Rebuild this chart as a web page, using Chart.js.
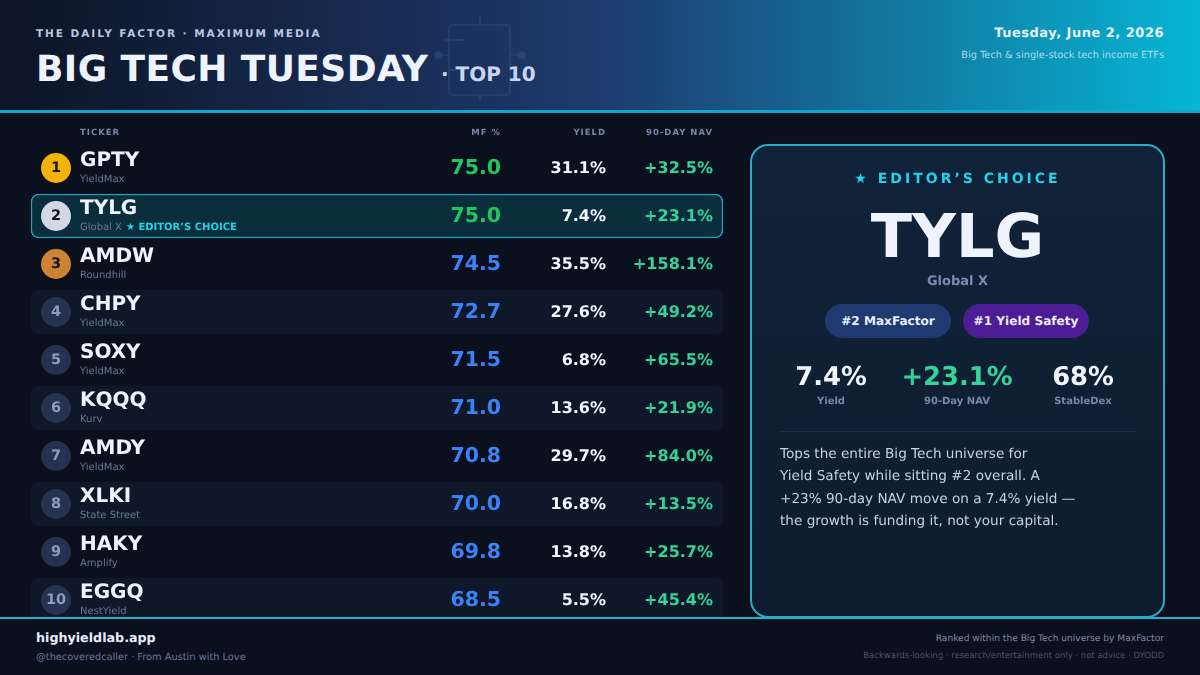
<!DOCTYPE html>
<html>
<head>
<meta charset="utf-8">
<script src="https://cdn.jsdelivr.net/npm/chart.js@4"></script>
<style>
  html, body { margin: 0; padding: 0; }
  body { width: 1200px; height: 675px; overflow: hidden; position: relative; background: #0b101e; font-family: "DejaVu Sans", sans-serif; text-rendering: geometricPrecision; }
  .abs { position: absolute; white-space: nowrap; }
  #header { left: 0; top: 0; width: 1200px; height: 110px; border-bottom: 3px solid #0fa8cb; background: linear-gradient(90deg, #0c1425 0%, #1e3a6e 50%, #06b6d4 100%); }
  #chip { left: 430px; top: 10px; }
  #sheet { left: 0; top: 0; }
  #panel { left: 750px; top: 144px; width: 411px; height: 470px; border: 2px solid #2fa9c4; border-radius: 18px; background: linear-gradient(180deg, #11233a 0%, #0e1b2e 100%); }
  #footer { left: 0; top: 617px; width: 1200px; height: 56px; border-top: 2px solid #1fb0cc; background: #0b101e; }
  .pill { top: 304px; height: 34px; line-height: 35px; border-radius: 17px; text-align: center; font-size: 12.1px; font-weight: bold; color: #e8eefb; width: 126px; }
  .stat { top: 361px; width: 160px; text-align: center; font-size: 25.8px; font-weight: bold; color: #f1f5fd; line-height: 32px; }
  .statl { top: 395px; width: 160px; text-align: center; font-size: 10px; font-weight: bold; color: #7687a9; line-height: 14px; }
</style>
</head>
<body>
<div id="header" class="abs"></div>
<svg id="chip" class="abs" width="100" height="90" fill="none" stroke="#3f5b8f" stroke-width="1.5" opacity="0.42">
  <rect x="19" y="15" width="61" height="70" rx="4"/>
  <line x1="50" y1="5" x2="50" y2="15"/><line x1="50" y1="85" x2="50" y2="95"/>
  <line x1="80" y1="45" x2="92" y2="45"/><line x1="8" y1="45" x2="19" y2="45"/>
  <circle cx="92" cy="45" r="3" fill="#3f5b8f"/><circle cx="8" cy="45" r="3" fill="#3f5b8f"/>
  <line x1="15" y1="30" x2="35" y2="30"/><line x1="19" y1="60" x2="35" y2="60"/>
</svg>
<div class="abs" style="left:36px;top:27px;font-size:10.5px;font-weight:bold;letter-spacing:1.95px;color:#b7c6e0;line-height:14px">THE DAILY FACTOR · MAXIMUM MEDIA</div>
<div class="abs" style="left:36px;top:47px;font-size:36px;font-weight:bold;letter-spacing:0.4px;color:#eef3fd;line-height:46px">BIG TECH TUESDAY</div>
<div class="abs" style="left:441px;top:60px;font-size:20px;font-weight:bold;color:#c9d6ef;line-height:28px">· TOP 10</div>
<div class="abs" style="right:36px;top:26px;font-size:13px;font-weight:bold;letter-spacing:0.5px;color:#e6f3fa;line-height:16px">Tuesday, June 2, 2026</div>
<div class="abs" style="right:36px;top:49px;font-size:9.8px;color:#a8dbe9;line-height:14px">Big Tech &amp; single-stock tech income ETFs</div>

<canvas id="sheet" class="abs" width="1200" height="675"></canvas>

<div id="panel" class="abs"></div>
<div class="abs" style="left:750px;width:415px;text-align:center;top:170px;font-size:14px;font-weight:bold;letter-spacing:3px;color:#22d3ee;line-height:18px">★ EDITOR’S CHOICE</div>
<div class="abs" style="left:750px;width:415px;text-align:center;top:198px;font-size:60.5px;font-weight:bold;color:#eef3fd;line-height:78px">TYLG</div>
<div class="abs" style="left:750px;width:415px;text-align:center;top:273px;font-size:13px;font-weight:bold;color:#7a8bb0;line-height:17px">Global X</div>
<div class="abs pill" style="left:825px;background:#1e3a70">#2 MaxFactor</div>
<div class="abs pill" style="left:963px;background:#4c1d95">#1 Yield Safety</div>
<div class="abs stat" style="left:751px">7.4%</div>
<div class="abs stat" style="left:877px;color:#34d399">+23.1%</div>
<div class="abs stat" style="left:1003px">68%</div>
<div class="abs statl" style="left:751px">Yield</div>
<div class="abs statl" style="left:877px">90-Day NAV</div>
<div class="abs statl" style="left:1003px">StableDex</div>
<div class="abs" style="left:780px;top:431px;width:355px;height:1px;background:#1f3148"></div>
<div class="abs" style="left:780px;top:443px;font-size:13.6px;line-height:22.4px;color:#c6d0e0">Tops the entire Big Tech universe for<br>Yield Safety while sitting #2 overall. A<br>+23% 90-day NAV move on a 7.4% yield —<br>the growth is funding it, not your capital.</div>

<div id="footer" class="abs"></div>
<div class="abs" style="left:36px;top:629px;font-size:12.7px;font-weight:bold;color:#e8eefb;line-height:17px">highyieldlab.app</div>
<div class="abs" style="left:36px;top:651px;font-size:9.8px;color:#68779a;line-height:14px">@thecoveredcaller · From Austin with Love</div>
<div class="abs" style="right:36px;top:633px;font-size:9.1px;color:#7f8aa3;line-height:13px">Ranked within the Big Tech universe by MaxFactor</div>
<div class="abs" style="right:36px;top:650px;font-size:8.5px;color:#4a5268;line-height:13px">Backwards-looking · research/entertainment only · not advice · DYODD</div>

<script>
// table data
const tickers = ['GPTY', 'TYLG', 'AMDW', 'CHPY', 'SOXY', 'KQQQ', 'AMDY', 'XLKI', 'HAKY', 'EGGQ'];
const issuers = ['YieldMax', 'Global X', 'Roundhill', 'YieldMax', 'YieldMax', 'Kurv', 'YieldMax', 'State Street', 'Amplify', 'NestYield'];
const mfPct = [75.0, 75.0, 74.5, 72.7, 71.5, 71.0, 70.8, 70.0, 69.8, 68.5];
const yieldPct = [31.1, 7.4, 35.5, 27.6, 6.8, 13.6, 29.7, 16.8, 13.8, 5.5];
const navPct = [32.5, 23.1, 158.1, 49.2, 65.5, 21.9, 84.0, 13.5, 25.7, 45.4];
const columnLabels = ['TICKER', 'MF %', 'YIELD', '90-DAY NAV'];
const editorsPick = 'TYLG';

// x scale runs in page pixels, so columns are simply anchors on it
const X_MIN = 31, X_MAX = 723;
const X_DOT = 56, X_TICKER = 80, X_MF = 501, X_YIELD = 606, X_NAV = 713;

const rowFill = tickers.map((t, i) => t === editorsPick ? '#0a2e3b' : (i % 2 === 1 ? '#0f1829' : 'rgba(0,0,0,0)'));
const rowEdgeWidth = tickers.map(t => t === editorsPick ? 1.5 : 0);
const dotFill = tickers.map((_, i) => ['#f4b20a', '#d3d9e4', '#cd8234'][i] || '#26324f');

/**
 * table text, placed from the chart's own scales
 */
const tableText = {
    id: 'tableText',
    afterDatasetsDraw(chart) {
        const { ctx, scales: { x, y } } = chart;
        const put = (text, px, py, font, color, align, spacing) => {
            ctx.font = font + ' "DejaVu Sans"';
            ctx.fillStyle = color;
            ctx.textAlign = align;
            ctx.textBaseline = 'middle';
            ctx.letterSpacing = spacing || '0px';
            ctx.textRendering = 'geometricPrecision';
            ctx.fillText(text, px, py);
        };
        ctx.save();
        const headerY = y.top - 11.5;
        put(columnLabels[0], x.getPixelForValue(X_TICKER), headerY, 'bold 8.5px', '#7485a8', 'left', '1px');
        put(columnLabels[1], x.getPixelForValue(X_MF), headerY, 'bold 8.5px', '#7485a8', 'right', '1px');
        put(columnLabels[2], x.getPixelForValue(X_YIELD), headerY, 'bold 8.5px', '#7485a8', 'right', '1px');
        put(columnLabels[3], x.getPixelForValue(X_NAV), headerY, 'bold 8.5px', '#7485a8', 'right', '1px');

        tickers.forEach((t, i) => {
            const cy = y.getPixelForValue(i);
            put(String(i + 1), x.getPixelForValue(X_DOT), cy + 0.5, 'bold 14.5px', i < 3 ? '#14161f' : '#8c9dc4', 'center');
            put(t, x.getPixelForValue(X_TICKER), cy - 7.5, 'bold 20px', '#eef3fd', 'left');
            put(issuers[i], x.getPixelForValue(X_TICKER), cy + 11.5, '10px', '#67769a', 'left');
            if (t === editorsPick) {
                const w = ctx.measureText(issuers[i]).width;
                put('★ EDITOR’S CHOICE', x.getPixelForValue(X_TICKER) + w + 4, cy + 11.5, 'bold 10px', '#22d3ee', 'left');
            }
            put(mfPct[i].toFixed(1), x.getPixelForValue(X_MF), cy + 0.5, 'bold 20.5px', mfPct[i] >= 75 ? '#22c55e' : '#3b82f6', 'right');
            put(yieldPct[i].toFixed(1) + '%', x.getPixelForValue(X_YIELD), cy + 0.5, 'bold 16px', '#f1f5fd', 'right');
            put('+' + navPct[i].toFixed(1) + '%', x.getPixelForValue(X_NAV), cy + 0.5, 'bold 16px', '#34d399', 'right');
        });
        ctx.restore();
    }
};

new Chart(document.getElementById('sheet').getContext('2d'), {
    type: 'bar',
    data: {
        labels: tickers,
        datasets: [
            {
                type: 'scatter',
                order: 0,
                data: tickers.map(t => ({ x: X_DOT, y: t })),
                backgroundColor: dotFill,
                borderWidth: 0,
                pointRadius: 15,
                pointHoverRadius: 15
            },
            {
                type: 'bar',
                order: 1,
                data: tickers.map(() => [X_MIN, X_MAX]),
                backgroundColor: rowFill,
                borderColor: '#2aa3ba',
                borderWidth: rowEdgeWidth,
                borderRadius: 8,
                borderSkipped: false,
                barThickness: 44
            }
        ]
    },
    options: {
        indexAxis: 'y',
        responsive: false,
        animation: false,
        devicePixelRatio: 1,
        layout: { padding: { left: X_MIN, right: 1200 - X_MAX, top: 144, bottom: 51 } },
        plugins: { legend: { display: false }, tooltip: { enabled: false } },
        scales: {
            x: { type: 'linear', min: X_MIN, max: X_MAX, display: false },
            y: { type: 'category', display: false }
        }
    },
    plugins: [tableText]
});
</script>
</body>
</html>
